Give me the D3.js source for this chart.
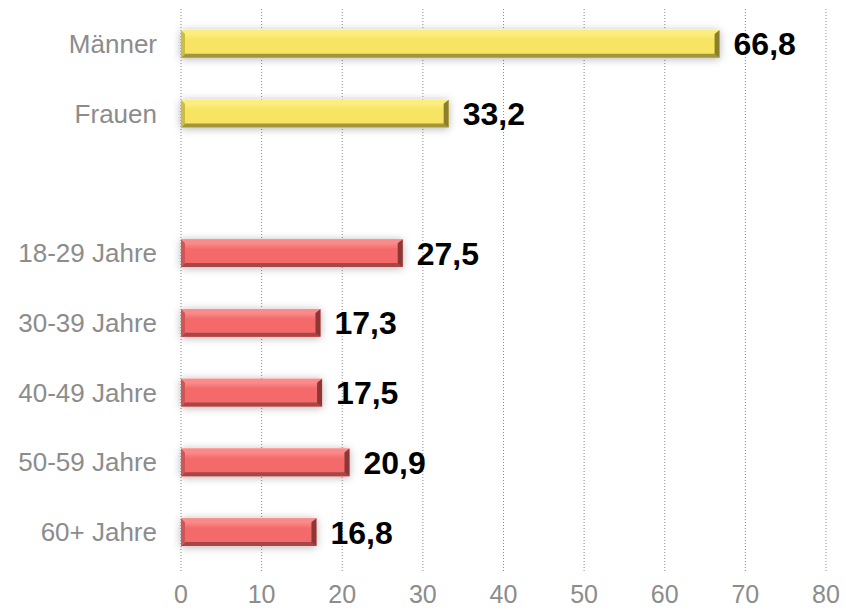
<!DOCTYPE html>
<html>
<head>
<meta charset="utf-8">
<script src="https://cdn.jsdelivr.net/npm/d3@7"></script>
<style>
  body { margin: 0; background: #fff; }
  text { font-family: "Liberation Sans", Arial, sans-serif; }
</style>
</head>
<body>
<div id="chart"></div>
<script>
// chart data
const categories = ["Männer", "Frauen", "", "18-29 Jahre", "30-39 Jahre", "40-49 Jahre", "50-59 Jahre", "60+ Jahre"];
const values = [66.8, 33.2, null, 27.5, 17.3, 17.5, 20.9, 16.8];
const groups = ["sex", "sex", null, "age", "age", "age", "age", "age"];
const xTicks = [0, 10, 20, 30, 40, 50, 60, 70, 80];

const width = 846, height = 610;
const margin = {top: 9, right: 20, bottom: 43, left: 181};
const innerW = 826 - margin.left;
const innerH = height - margin.top - margin.bottom;

const svg = d3.select("#chart").append("svg")
    .attr("width", width)
    .attr("height", height);

const defs = svg.append("defs");

// bevel colours per group
const palette = {
    sex: {face: "#f7e462", hi: "#fff597", top: "#fbee7e", bot: "#a3953a", left: "#cdbd45", right: "#8c7f2c"},
    age: {face: "#f46b6b", hi: "#ffa2a2", top: "#fb8a8a", bot: "#a64646", left: "#cf5656", right: "#8c3636"}
};
Object.entries(palette).forEach(([k, c]) => {
    const gr = defs.append("linearGradient").attr("id", "face-" + k)
        .attr("x1", 0).attr("y1", 0).attr("x2", 0).attr("y2", 1);
    gr.append("stop").attr("offset", "0%").attr("stop-color", c.hi);
    gr.append("stop").attr("offset", "35%").attr("stop-color", c.face);
    gr.append("stop").attr("offset", "100%").attr("stop-color", c.face);
});

const shadow = defs.append("filter").attr("id", "shadow")
    .attr("x", "-10%").attr("y", "-60%").attr("width", "120%").attr("height", "220%");
shadow.append("feDropShadow").attr("dx", 0).attr("dy", 1)
    .attr("stdDeviation", 4).attr("flood-color", "#000").attr("flood-opacity", 0.3);

const g = svg.append("g").attr("transform", `translate(${margin.left},${margin.top})`);

const x = d3.scaleLinear().domain([0, 80]).range([0, innerW]);
const y = d3.scaleBand().domain(d3.range(categories.length)).range([0, innerH])
    .paddingInner(0.6).paddingOuter(0.3);

// dotted gridlines
g.selectAll(".grid")
    .data(xTicks)
    .join("line")
    .attr("class", "grid")
    .attr("x1", d => x(d)).attr("x2", d => x(d))
    .attr("y1", 0).attr("y2", innerH + 4)
    .attr("stroke", "#8a8a8a")
    .attr("stroke-width", 1)
    .attr("stroke-dasharray", "1,2");

// x tick labels
g.selectAll(".tick-label")
    .data(xTicks)
    .join("text")
    .attr("class", "tick-label")
    .attr("x", d => x(d))
    .attr("y", innerH + 36)
    .attr("text-anchor", "middle")
    .attr("fill", "#8c8c8c")
    .attr("font-size", 25)
    .text(d => d);

// category labels
g.selectAll(".cat-label")
    .data(categories)
    .join("text")
    .attr("class", "cat-label")
    .attr("x", -24)
    .attr("y", (d, i) => y(i) + y.bandwidth() / 2)
    .attr("dy", "0.35em")
    .attr("text-anchor", "end")
    .attr("fill", "#8c8c8c")
    .attr("font-size", 26)
    .text(d => d);

const rows = categories.map((c, i) => ({i, c, v: values[i], grp: groups[i]})).filter(d => d.v != null);
const bev = 4;

// bars
const bars = g.selectAll(".bar")
    .data(rows)
    .join("g")
    .attr("class", "bar");

bars.append("rect")
    .attr("x", x(0))
    .attr("y", d => y(d.i))
    .attr("width", d => x(d.v) - x(0))
    .attr("height", y.bandwidth())
    .attr("fill", d => `url(#face-${d.grp})`)
    .attr("filter", "url(#shadow)");

// bevel edges built from the scales
const edge = (d, side) => {
    const x0 = x(0), x1 = x(d.v), y0 = y(d.i), y1 = y(d.i) + y.bandwidth();
    const pts = {
        top: [[x0, y0], [x1, y0], [x1 - bev, y0 + bev], [x0 + bev, y0 + bev]],
        bot: [[x0, y1], [x1, y1], [x1 - bev, y1 - bev], [x0 + bev, y1 - bev]],
        left: [[x0, y0], [x0 + bev, y0 + bev], [x0 + bev, y1 - bev], [x0, y1]],
        right: [[x1, y0], [x1 - bev - 1, y0 + bev], [x1 - bev - 1, y1 - bev], [x1, y1]]
    }[side];
    return pts.map(p => p.join(",")).join(" ");
};
["top", "bot", "left", "right"].forEach(side => {
    bars.append("polygon")
        .attr("points", d => edge(d, side))
        .attr("fill", d => palette[d.grp][side]);
});

// value labels
g.selectAll(".val")
    .data(rows)
    .join("text")
    .attr("class", "val")
    .attr("x", d => x(d.v) + 14)
    .attr("y", d => y(d.i) + y.bandwidth() / 2)
    .attr("dy", "0.36em")
    .attr("font-size", 32)
    .attr("font-weight", "bold")
    .attr("fill", "#000")
    .text(d => d3.format(".1f")(d.v).replace(".", ","));
</script>
</body>
</html>
